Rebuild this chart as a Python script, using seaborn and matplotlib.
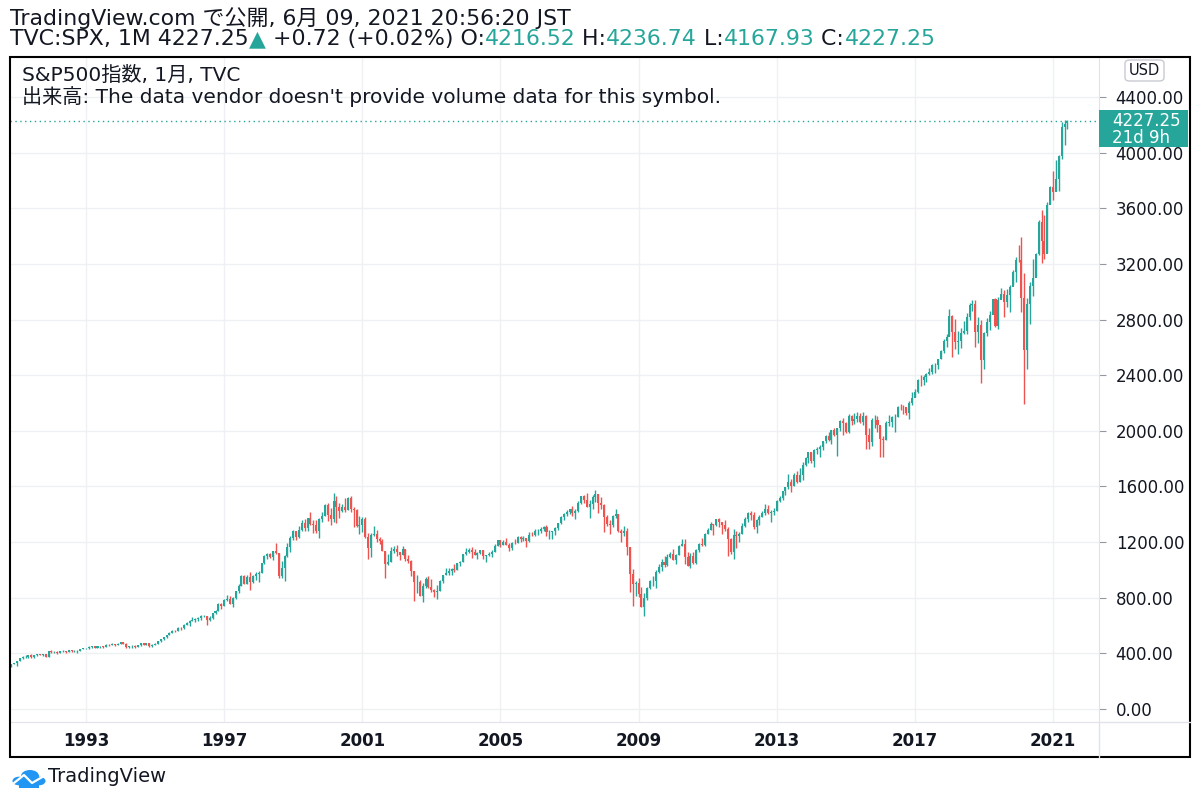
import numpy as np
import pandas as pd
import matplotlib
matplotlib.use('Agg')
import matplotlib.pyplot as plt
from matplotlib.patches import Rectangle, FancyBboxPatch, Circle
import seaborn as sns

sns.set_style('white')
plt.rcParams['font.family'] = ['Noto Sans CJK JP', 'DejaVu Sans']
WIDE = ['DejaVu Sans', 'Noto Sans CJK JP']

# monthly S&P500 candles, Nov 1990 .. Jun 2021
first_month = '1990-11-01'
first_open = 304.00
last_open = 4216.52

closes = [
    322.22, 330.22,
    343.93, 367.07, 375.22, 375.34, 389.83, 371.16, 387.81, 395.43, 387.86, 392.46, 375.22, 417.09,
    408.79, 412.70, 403.69, 414.95, 415.35, 408.14, 424.21, 414.03, 417.80, 418.68, 431.35, 435.71,
    438.78, 443.38, 451.67, 440.19, 450.19, 450.53, 448.13, 463.56, 458.93, 467.83, 461.79, 466.45,
    481.61, 467.14, 445.77, 450.91, 456.50, 444.27, 458.26, 475.49, 462.69, 472.35, 453.69, 459.27,
    470.42, 487.39, 500.71, 514.71, 533.40, 544.75, 562.06, 561.88, 584.41, 581.50, 605.37, 615.93,
    636.02, 640.43, 645.50, 654.17, 669.12, 670.63, 639.95, 651.99, 687.31, 705.27, 757.02, 740.74,
    786.16, 790.82, 757.12, 801.34, 848.28, 885.14, 954.31, 899.47, 947.28, 914.62, 955.40, 970.43,
    980.28, 1049.34, 1101.75, 1111.75, 1090.82, 1133.84, 1120.67, 957.28, 1017.01, 1098.67, 1163.63, 1229.23,
    1279.64, 1238.33, 1286.37, 1335.18, 1301.84, 1372.71, 1328.72, 1320.41, 1282.71, 1362.93, 1388.91, 1469.25,
    1394.46, 1366.42, 1498.58, 1452.43, 1420.60, 1454.60, 1430.83, 1517.68, 1436.51, 1429.40, 1314.95, 1320.28,
    1366.01, 1239.94, 1160.33, 1249.46, 1255.82, 1224.42, 1211.23, 1133.58, 1040.94, 1059.78, 1139.45, 1148.08,
    1130.20, 1106.73, 1147.39, 1076.92, 1067.14, 989.82, 911.62, 916.07, 815.28, 885.76, 936.31, 879.82,
    855.70, 841.15, 848.18, 916.92, 963.59, 974.50, 990.31, 1008.01, 995.97, 1050.71, 1058.20, 1111.92,
    1131.13, 1144.94, 1126.21, 1107.30, 1120.68, 1140.84, 1101.72, 1104.24, 1114.58, 1130.20, 1173.82, 1211.92,
    1181.27, 1203.60, 1180.59, 1156.85, 1191.50, 1191.33, 1234.18, 1220.33, 1228.81, 1207.01, 1249.48, 1248.29,
    1280.08, 1280.66, 1294.83, 1310.61, 1270.09, 1270.20, 1276.66, 1303.82, 1335.85, 1377.94, 1400.63, 1418.30,
    1438.24, 1406.82, 1420.86, 1482.37, 1530.62, 1503.35, 1455.27, 1473.99, 1526.75, 1549.38, 1481.14, 1468.36,
    1378.55, 1330.63, 1322.70, 1385.59, 1400.38, 1280.00, 1267.38, 1282.83, 1166.36, 968.75, 896.24, 903.25,
    825.88, 735.09, 797.87, 872.81, 919.14, 919.32, 987.48, 1020.62, 1057.08, 1036.19, 1095.63, 1115.10,
    1073.87, 1104.49, 1169.43, 1186.69, 1089.41, 1030.71, 1101.60, 1049.33, 1141.20, 1183.26, 1180.55, 1257.64,
    1286.12, 1327.22, 1325.83, 1363.61, 1345.20, 1320.64, 1292.28, 1218.89, 1131.42, 1253.30, 1246.96, 1257.60,
    1312.41, 1365.68, 1408.47, 1397.91, 1310.33, 1362.16, 1379.32, 1406.58, 1440.67, 1412.16, 1416.18, 1426.19,
    1498.11, 1514.68, 1569.19, 1597.57, 1630.74, 1606.28, 1685.73, 1632.97, 1681.55, 1756.54, 1805.81, 1848.36,
    1782.59, 1859.45, 1872.34, 1883.95, 1923.57, 1960.23, 1930.67, 2003.37, 1972.29, 2018.05, 2067.56, 2058.90,
    1994.99, 2104.50, 2067.89, 2085.51, 2107.39, 2063.11, 2103.84, 1972.18, 1920.03, 2079.36, 2080.41, 2043.94,
    1940.24, 1932.23, 2059.74, 2065.30, 2096.95, 2098.86, 2173.60, 2170.95, 2168.27, 2126.15, 2198.81, 2238.83,
    2278.87, 2363.64, 2362.72, 2384.20, 2411.80, 2423.41, 2470.30, 2471.65, 2519.36, 2575.26, 2647.58, 2673.61,
    2823.81, 2713.83, 2640.87, 2648.05, 2705.27, 2718.37, 2816.29, 2901.52, 2913.98, 2711.74, 2760.17, 2506.85,
    2704.10, 2784.49, 2834.40, 2945.83, 2752.06, 2941.76, 2980.38, 2926.46, 2976.74, 3037.56, 3140.98, 3230.78,
    3225.52, 2954.22, 2584.59, 2912.43, 3044.31, 3100.29, 3271.12, 3500.31, 3363.00, 3269.96, 3621.63, 3756.07,
    3714.24, 3811.15, 3972.89, 4181.17, 4204.11, 4227.25,
]

highs = [
    324, 332,
    344, 370, 383, 391, 391, 392, 391, 396, 396, 393, 398, 418,
    421, 416, 414, 419, 421, 417, 426, 425, 425, 422, 432, 442,
    442, 451, 456, 452, 454, 453, 451, 464, 464, 471, 469, 472,
    483, 482, 472, 454, 458, 463, 461, 477, 476, 474, 474, 466,
    472, 489, 503, 515, 534, 552, 565, 565, 586, 587, 609, 622,
    637, 665, 656, 660, 673, 673, 672, 669, 690, 711, 762, 762,
    794, 818, 815, 805, 851, 899, 961, 961, 964, 983, 964, 987,
    993, 1052, 1106, 1123, 1122, 1139, 1190, 1122, 1066, 1104, 1193, 1244,
    1285, 1283, 1317, 1362, 1368, 1376, 1420, 1356, 1358, 1373, 1414, 1474,
    1478, 1445, 1553, 1528, 1481, 1474, 1518, 1525, 1530, 1455, 1438, 1389,
    1384, 1377, 1263, 1269, 1316, 1286, 1239, 1220, 1134, 1111, 1163, 1173,
    1176, 1131, 1173, 1147, 1107, 1069, 994, 965, 925, 908, 952, 954,
    935, 865, 895, 924, 965, 1015, 1016, 1011, 1040, 1053, 1063, 1112,
    1155, 1159, 1163, 1150, 1128, 1146, 1141, 1110, 1131, 1143, 1184, 1217,
    1212, 1212, 1229, 1192, 1200, 1220, 1246, 1245, 1243, 1233, 1271, 1276,
    1295, 1297, 1310, 1318, 1326, 1285, 1281, 1307, 1340, 1390, 1407, 1431,
    1441, 1461, 1438, 1499, 1535, 1541, 1556, 1503, 1538, 1576, 1545, 1523,
    1471, 1396, 1361, 1397, 1440, 1405, 1292, 1314, 1303, 1167, 1007, 919,
    943, 875, 832, 878, 930, 957, 997, 1039, 1080, 1102, 1113, 1130,
    1150, 1113, 1181, 1220, 1223, 1131, 1120, 1130, 1151, 1196, 1228, 1263,
    1303, 1345, 1333, 1366, 1370, 1345, 1357, 1307, 1230, 1293, 1277, 1270,
    1334, 1378, 1420, 1422, 1415, 1364, 1392, 1426, 1475, 1470, 1434, 1448,
    1504, 1530, 1570, 1598, 1688, 1654, 1698, 1710, 1730, 1775, 1813, 1849,
    1851, 1868, 1884, 1897, 1925, 1968, 1991, 2005, 2019, 2019, 2075, 2094,
    2065, 2120, 2117, 2126, 2135, 2130, 2133, 2113, 2021, 2094, 2117, 2104,
    2038, 1963, 2073, 2111, 2104, 2121, 2178, 2194, 2187, 2169, 2214, 2278,
    2301, 2371, 2401, 2399, 2419, 2454, 2484, 2491, 2519, 2582, 2657, 2695,
    2873, 2836, 2801, 2717, 2742, 2791, 2848, 2917, 2941, 2940, 2815, 2800,
    2708, 2813, 2860, 2950, 2954, 2964, 3028, 3014, 3022, 3050, 3154, 3248,
    3337, 3394, 3137, 2955, 3068, 3233, 3280, 3515, 3588, 3550, 3646, 3760,
    3870, 3950, 3981, 4219, 4238, 4236.74,
]

lows = [
    303, 321,
    309, 342, 363, 368, 369, 367, 370, 380, 385, 379, 374, 372,
    405, 404, 399, 400, 409, 401, 408, 410, 413, 402, 416, 428,
    428, 431, 441, 437, 436, 441, 441, 446, 452, 458, 454, 460,
    464, 465, 436, 435, 442, 441, 443, 456, 461, 457, 449, 445,
    458, 469, 484, 499, 511, 530, 543, 553, 560, 567, 578, 602,
    597, 631, 627, 630, 638, 660, 601, 636, 649, 684, 703, 716,
    737, 773, 756, 733, 793, 837, 883, 896, 897, 855, 905, 931,
    912, 980, 1042, 1076, 1086, 1074, 1114, 940, 939, 923, 1095, 1132,
    1212, 1212, 1228, 1282, 1282, 1281, 1325, 1268, 1268, 1233, 1348, 1387,
    1350, 1325, 1346, 1339, 1374, 1420, 1413, 1431, 1419, 1305, 1306, 1255,
    1274, 1228, 1082, 1092, 1243, 1200, 1183, 1133, 944, 1037, 1055, 1125,
    1101, 1074, 1107, 1064, 1048, 953, 775, 834, 815, 768, 873, 870,
    840, 806, 789, 848, 903, 961, 962, 960, 985, 996, 1031, 1058,
    1106, 1123, 1087, 1106, 1076, 1113, 1078, 1060, 1098, 1090, 1130, 1173,
    1164, 1180, 1177, 1137, 1146, 1188, 1190, 1201, 1205, 1168, 1202, 1245,
    1245, 1253, 1268, 1280, 1245, 1219, 1224, 1253, 1290, 1327, 1360, 1385,
    1403, 1389, 1364, 1416, 1476, 1484, 1454, 1370, 1439, 1489, 1406, 1435,
    1270, 1316, 1256, 1312, 1373, 1272, 1200, 1247, 1107, 840, 741, 815,
    805, 734, 667, 783, 866, 882, 869, 978, 992, 1020, 1029, 1086,
    1071, 1045, 1105, 1170, 1040, 1029, 1011, 1040, 1040, 1131, 1174, 1174,
    1257, 1289, 1249, 1314, 1311, 1258, 1283, 1101, 1114, 1075, 1159, 1202,
    1259, 1312, 1341, 1357, 1292, 1267, 1325, 1379, 1397, 1403, 1343, 1398,
    1426, 1485, 1501, 1536, 1581, 1560, 1605, 1627, 1633, 1646, 1746, 1767,
    1770, 1737, 1834, 1814, 1860, 1915, 1930, 1904, 1964, 1821, 2001, 1972,
    1988, 1981, 2040, 2049, 2067, 2056, 2045, 1867, 1872, 1893, 2019, 1993,
    1812, 1810, 1937, 2034, 2026, 1992, 2097, 2148, 2120, 2115, 2084, 2187,
    2245, 2271, 2322, 2328, 2348, 2405, 2407, 2417, 2446, 2520, 2557, 2605,
    2683, 2533, 2585, 2553, 2594, 2698, 2699, 2796, 2865, 2603, 2631, 2347,
    2444, 2682, 2723, 2848, 2750, 2729, 2952, 2822, 2892, 2856, 3050, 3070,
    3214, 2855, 2192, 2447, 2767, 2966, 3116, 3262, 3209, 3234, 3279, 3633,
    3663, 3725, 3723, 3955, 4056, 4167.93,
]

price_ticks = list(range(0, 4401, 400))
year_ticks = [1993, 1997, 2001, 2005, 2009, 2013, 2017, 2021]
last_price = 4227.25

UP = '#26a69a'
DOWN = '#ef5350'
TXT = '#131722'
GRID = '#eef0f4'

dates = pd.date_range(first_month, periods=len(closes), freq='MS')
df = pd.DataFrame({'date': dates, 'close': closes, 'high': highs, 'low': lows})
df['open'] = df['close'].shift(1)
df.loc[0, 'open'] = first_open
df.loc[len(df) - 1, 'open'] = last_open
df['x'] = df['date'].dt.year + (df['date'].dt.month - 1) / 12
df['up'] = df['close'] >= df['open']
df['color'] = np.where(df['up'], UP, DOWN)

W, H = 1200, 800
fig = plt.figure(figsize=(12, 8), dpi=100)
ax = fig.add_axes([10 / W, 1 - 722 / H, 1089 / W, 665 / H])

ax.vlines(df['x'], df['low'], df['high'], colors=df['color'], linewidth=1.0, zorder=3)
body_bottom = np.minimum(df['open'], df['close'])
body_h = np.maximum(np.abs(df['close'] - df['open']), 1.5)
ax.bar(df['x'], body_h, bottom=body_bottom, width=0.7 / 12, color=df['color'],
       linewidth=0, zorder=4)

ax.axhline(last_price, color=UP, linestyle=(0, (1, 2.5)), linewidth=1.0, zorder=2)

ax.set_xlim(1990.80, 2022.33)
ax.set_ylim(-93.5, 4688)
ax.set_xticks(year_ticks)
ax.set_xticklabels([str(y) for y in year_ticks], fontsize=12, fontweight='bold', color=TXT,
                   family=WIDE)
ax.set_yticks(price_ticks)
ax.set_yticklabels([f'{p:.2f}' for p in price_ticks], fontsize=12, color=TXT, family=WIDE)
ax.yaxis.tick_right()
ax.tick_params(axis='x', length=5, color='#dfe2e8', pad=2)
ax.tick_params(axis='y', length=5, color='#9598a1', pad=7)
ax.grid(True, color=GRID, linewidth=1.0)
ax.set_axisbelow(True)
for side in ['top', 'left']:
    ax.spines[side].set_visible(False)
ax.spines['bottom'].set_color('#e0e3eb')
ax.spines['right'].set_color('#e0e3eb')

# outer frame and time-axis strip
fig.add_artist(Rectangle((10 / W, 1 - 757 / H), 1180 / W, 700 / H, transform=fig.transFigure,
                         fill=False, edgecolor='#000000', linewidth=1.5))
fig.add_artist(plt.Line2D([1099 / W, 1099 / W], [1 - 757 / H, 1 - 722 / H],
                          transform=fig.transFigure, color='#e0e3eb', linewidth=1))
fig.add_artist(plt.Line2D([1099 / W, 1190 / W], [1 - 722 / H, 1 - 722 / H],
                          transform=fig.transFigure, color='#e0e3eb', linewidth=1))

# last price label
fig.add_artist(Rectangle((1099 / W, 1 - 147 / H), 89 / W, 37 / H, transform=fig.transFigure,
                         facecolor=UP, edgecolor='none'))
fig.text(1112 / W, 1 - 121 / H, f'{last_price:.2f}', color='white', fontsize=12, va='center',
         family=WIDE)
fig.text(1112 / W, 1 - 138 / H, '21d 9h', color='white', fontsize=12, va='center', family=WIDE)

# USD box
fig.add_artist(FancyBboxPatch((1125 / W, 1 - 81 / H), 39 / W, 21 / H, transform=fig.transFigure,
                              boxstyle='round,pad=0,rounding_size=0.004',
                              facecolor='white', edgecolor='#c8cbd2', linewidth=1))
fig.text(1144.5 / W, 1 - 70.5 / H, 'USD', color=TXT, fontsize=10.5, ha='center', va='center',
         family=WIDE)

# legend texts inside chart
fig.text(22 / W, 1 - 75 / H, 'S&P500指数, 1月, TVC', color=TXT, fontsize=14.5, va='center',
         family=WIDE)
fig.text(22 / W, 1 - 97 / H, "出来高: The data vendor doesn't provide volume data for this symbol.",
         color=TXT, fontsize=14.5, va='center', family=WIDE)

# header
fig.text(10 / W, 1 - 18 / H, 'TradingView.com で公開, 6月 09, 2021 20:56:20 JST',
         color=TXT, fontsize=15.8, va='center', family=WIDE)
segments = [
    ('TVC:SPX, 1M 4227.25', TXT), ('▲', UP), (' +0.72 (+0.02%) O:', TXT), ('4216.52', UP),
    (' H:', TXT), ('4236.74', UP), (' L:', TXT), ('4167.93', UP), (' C:', TXT), ('4227.25', UP),
]
renderer = fig.canvas.get_renderer()
cursor = 10
for s, c in segments:
    t = fig.text(cursor / W, 1 - 39 / H, s, color=c, fontsize=15.8, va='center', family=WIDE)
    cursor += t.get_window_extent(renderer).width

# footer logo
blue = '#2196f3'
for cx, cy, r in [(19, 781, 6.5), (30, 776, 9), (39, 781, 6.5)]:
    fig.add_artist(Circle((cx / W, 1 - cy / H), r / W, transform=fig.transFigure,
                          facecolor=blue, edgecolor='none'))
fig.add_artist(Rectangle((19 / W, 1 - 787.5 / H), 20 / W, 7 / H, transform=fig.transFigure,
                         facecolor=blue, edgecolor='none'))
fig.add_artist(plt.Line2D([14 / W, 24 / W, 32 / W, 44 / W],
                          [1 - 783 / H, 1 - 775 / H, 1 - 783 / H, 1 - 776 / H],
                          transform=fig.transFigure, color='white', linewidth=1.6))
fig.text(48 / W, 1 - 777 / H, 'TradingView', color=TXT, fontsize=14, va='center', family=WIDE)

fig.savefig('out.png', dpi=100, facecolor='white')
